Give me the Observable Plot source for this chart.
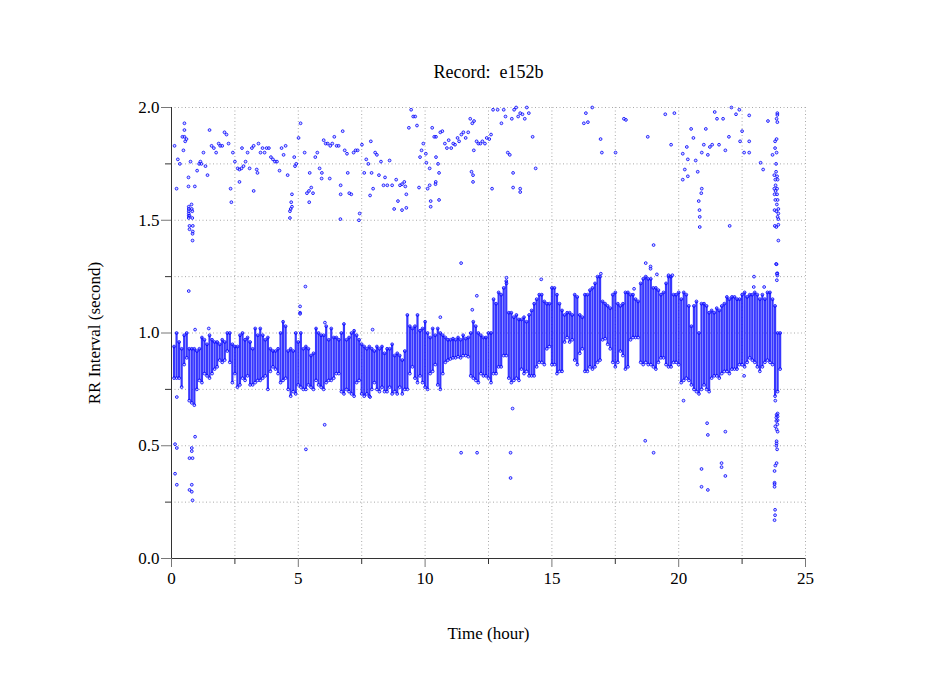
<!DOCTYPE html>
<html>
<head>
<meta charset="utf-8">
<script src="https://cdn.jsdelivr.net/npm/d3@7"></script>
<script src="https://cdn.jsdelivr.net/npm/@observablehq/plot@0.6"></script>
<style>
  body { margin: 0; background: white; }
</style>
</head>
<body>
<div id="chart"></div>
<script>
const xMajorTicks = [0, 5, 10, 15, 20, 25]
const xMinorTicks = [2.5, 7.5, 12.5, 17.5, 22.5]
const yMajorTicks = [0, 0.5, 1, 1.5, 2]
const yMinorTicks = [0.25, 0.75, 1.25, 1.75]

// the dense band cannot be read beat by beat, so it is kept as one
// low/high pair for each 0.1 hour column
const bandHour = [
  0.1, 0.2, 0.3, 0.4, 0.5, 0.6, 0.7, 0.8, 0.9, 1.0,
  1.1, 1.2, 1.3, 1.4, 1.5, 1.6, 1.7, 1.8, 1.9, 2.0,
  2.1, 2.2, 2.3, 2.4, 2.5, 2.6, 2.7, 2.8, 2.9, 3.0,
  3.1, 3.2, 3.3, 3.4, 3.5, 3.6, 3.7, 3.8, 3.9, 4.0,
  4.1, 4.2, 4.3, 4.4, 4.5, 4.6, 4.7, 4.8, 4.9, 5.0,
  5.1, 5.2, 5.3, 5.4, 5.5, 5.6, 5.7, 5.8, 5.9, 6.0,
  6.1, 6.2, 6.3, 6.4, 6.5, 6.6, 6.7, 6.8, 6.9, 7.0,
  7.1, 7.2, 7.3, 7.4, 7.5, 7.6, 7.7, 7.8, 7.9, 8.0,
  8.1, 8.2, 8.3, 8.4, 8.5, 8.6, 8.7, 8.8, 8.9, 9.0,
  9.1, 9.2, 9.3, 9.4, 9.5, 9.6, 9.7, 9.8, 9.9, 10.0,
  10.1, 10.2, 10.3, 10.4, 10.5, 10.6, 10.7, 10.8, 10.9, 11.0,
  11.1, 11.2, 11.3, 11.4, 11.5, 11.6, 11.7, 11.8, 11.9, 12.0,
  12.1, 12.2, 12.3, 12.4, 12.5, 12.6, 12.7, 12.8, 12.9, 13.0,
  13.1, 13.2, 13.3, 13.4, 13.5, 13.6, 13.7, 13.8, 13.9, 14.0,
  14.1, 14.2, 14.3, 14.4, 14.5, 14.6, 14.7, 14.8, 14.9, 15.0,
  15.1, 15.2, 15.3, 15.4, 15.5, 15.6, 15.7, 15.8, 15.9, 16.0,
  16.1, 16.2, 16.3, 16.4, 16.5, 16.6, 16.7, 16.8, 16.9, 17.0,
  17.1, 17.2, 17.3, 17.4, 17.5, 17.6, 17.7, 17.8, 17.9, 18.0,
  18.1, 18.2, 18.3, 18.4, 18.5, 18.6, 18.7, 18.8, 18.9, 19.0,
  19.1, 19.2, 19.3, 19.4, 19.5, 19.6, 19.7, 19.8, 19.9, 20.0,
  20.1, 20.2, 20.3, 20.4, 20.5, 20.6, 20.7, 20.8, 20.9, 21.0,
  21.1, 21.2, 21.3, 21.4, 21.5, 21.6, 21.7, 21.8, 21.9, 22.0,
  22.1, 22.2, 22.3, 22.4, 22.5, 22.6, 22.7, 22.8, 22.9, 23.0,
  23.1, 23.2, 23.3, 23.4, 23.5, 23.6, 23.7, 23.8, 23.9, 24.0
]
const bandHigh = [
  .94, 1.0, .96, .93, .99, 1.0, .93, .93, .93, .92,
  .93, .98, .97, .95, .99, .97, .96, .96, .95, .97,
  .96, 1.0, 1.0, .95, .94, .94, .99, 1.0, .97, .98,
  .96, .93, 1.02, .99, 1.02, .99, .97, .98, .93, .92,
  .92, .93, 1.0, 1.05, 1.03, .92, .93, .92, 1.0, .96,
  1.0, .93, .94, .93, .90, .91, 1.02, 1.0, .99, .99,
  1.03, .97, 1.02, .98, .98, .97, 1.0, 1.04, .97, .98,
  1.0, 1.01, .99, .97, .95, .94, .93, .94, .93, .92,
  .94, .93, .94, .91, .93, .93, .95, .90, .91, .90,
  .88, .92, 1.08, 1.03, 1.02, 1.03, 1.08, 1.01, 1.02, 1.05,
  1.0, .98, 1.02, .99, 1.02, 1.0, .99, .98, .97, .97,
  .975, .97, .98, .97, .99, .975, .98, 1.0, 1.05, 1.03,
  1.0, .99, .98, .98, 1.0, 1.0, 1.15, 1.13, 1.18, 1.17,
  1.2, 1.23, 1.09, 1.09, 1.07, 1.08, 1.06, 1.06, 1.07, 1.05,
  1.08, 1.1, 1.13, 1.15, 1.17, 1.17, 1.14, 1.13, 1.13, 1.2,
  1.2, 1.17, 1.13, 1.1, 1.08, 1.09, 1.09, 1.08, 1.17, 1.16,
  1.08, 1.07, 1.17, 1.17, 1.19, 1.2, 1.22, 1.25, 1.25, 1.14,
  1.13, 1.12, 1.11, 1.17, 1.18, 1.13, 1.12, 1.13, 1.18, 1.18,
  1.17, 1.17, 1.15, 1.14, 1.22, 1.24, 1.25, 1.24, 1.24, 1.2,
  1.2, 1.19, 1.17, 1.18, 1.22, 1.25, 1.25, 1.17, 1.17, 1.18,
  1.15, 1.18, 1.17, 1.12, 1.03, 1.12, 1.14, 1.0, 1.13, 1.13,
  1.12, 1.09, 1.1, 1.09, 1.11, 1.1, 1.12, 1.13, 1.16, 1.15,
  1.16, 1.16, 1.15, 1.15, 1.17, 1.18, 1.16, 1.17, 1.17, 1.18,
  1.17, 1.15, 1.17, 1.15, 1.18, 1.18, 1.15, 1.12, 1.0, 1.0
]
const bandLow = [
  .80, .80, .80, .76, .86, .89, .70, .69, .68, .75,
  .79, .78, .82, .81, .80, .82, .84, .85, .88, .87,
  .88, .92, .87, .78, .82, .76, .77, .80, .79, .81,
  .77, .77, .78, .79, .79, .80, .81, .75, .83, .85,
  .84, .82, .78, .79, .80, .75, .72, .74, .73, .77,
  .76, .75, .75, .77, .76, .75, .79, .77, .76, .75,
  .78, .79, .79, .80, .82, .82, .74, .73, .75, .74,
  .73, .72, .78, .79, .73, .72, .73, .72, .75, .78,
  .75, .74, .76, .74, .74, .76, .73, .74, .73, .76,
  .73, .75, .75, .82, .85, .80, .78, .81, .78, .76,
  .75, .82, .83, .86, .77, .75, .82, .87, .88, .885,
  .89, .89, .895, .89, .90, .90, .895, .81, .80, .79,
  .78, .82, .81, .81, .80, .78, .82, .82, .85, .85,
  .90, .90, .80, .78, .79, .80, .79, .84, .82, .83,
  .81, .81, .81, .85, .87, .87, .86, .93, .94, .86,
  .86, .82, .83, .83, .96, .98, .96, .97, .88, .86,
  .91, .93, .83, .83, .85, .84, .85, .87, .88, .97,
  .975, .95, .93, .87, .85, .87, .92, .90, .84, .85,
  .97, .98, .98, .98, .87, .86, .87, .86, .86, .85,
  .84, .87, .89, .89, .86, .85, .85, .87, .87, .86,
  .78, .79, .80, .79, .77, .75, .74, .73, .75, .77,
  .75, .74, .80, .81, .81, .80, .82, .83, .83, .82,
  .84, .84, .84, .86, .86, .85, .87, .89, .88, .87,
  .85, .83, .85, .87, .88, .87, .86, .72, .74, .84
]

// single beats away from the band
const beatHour = [
  .12, .25, .20, .33, .51, .51, .43, .51, .59, .54, .47, .67, .67, .92, .75, .79, .68, .80, .68, .68,
  .82, .68, .68, .82, .71, .68, .84, .71, .71, .84, .83, .83, 1.01, 1.09, 1.14, 1.18, 1.26, 1.34, 1.42, 1.50,
  1.58, 1.67, 1.76, 1.86, 1.92, 2.0, 2.09, 2.17, 2.25, 2.33, 2.36, 2.42, 2.5, 2.61, 2.68, 2.68, 2.76, 2.84, 2.78, 2.92,
  3.0, 3.08, 3.17, 3.24, 3.24, 3.36, 3.39, 3.43, 3.51, 3.59, 3.67, 3.75, 3.84, 3.92, 4.0, 4.08, 4.16, 4.26, 4.34, 4.42,
  4.5, 4.58, 4.67, 4.70, 4.67, 4.72, 4.75, 4.75, 4.84, 4.87, 4.92, 5.01, 5.09, 5.25, 5.45, 5.34, 5.42, 5.51, 5.58, 5.43,
  5.67, 5.75, 5.84, 5.93, 5.92, 6.0, 6.08, 6.16, 6.24, 6.26, 6.34, 6.42, 6.51, 6.59, 6.67, 6.67, 6.66, 6.75, 6.83, 6.92,
  6.95, 7.01, 7.09, 7.18, 7.26, 7.34, 7.42, 7.39, 7.51, 7.6, 7.68, 7.76, 7.86, 7.83, 7.89, 7.95, 8.03, 8.1, 8.18, 8.26,
  8.36, 8.42, 8.51, 8.6, 8.7, 8.78, 8.86, 8.93, 9.01, 9.09, 9.18, 9.22, 9.26, 9.09, 9.26, 9.36, 9.45, 9.53, 9.61, 9.68,
  9.76, 9.8, 9.86, 9.93, 10.03, 10.05, 10.18, 10.1, 10.18, 10.22, 10.22, 10.28, 10.36, 10.43, 10.43, 10.51, 10.55, 10.42, 10.41, 10.55,
  10.6, 10.68, 10.78, 10.86, 10.93, 11.03, 11.11, 11.18, 11.28, 11.34, 11.43, 11.51, 11.6, 11.7, 11.42, 11.78, 11.86, 11.93, 11.83, 11.89,
  11.89, 11.92, 12.03, 12.1, 12.18, 12.26, 12.36, 12.43, 12.53, 12.6, 12.64, 12.68, 12.86, 13.01, 13.1, 13.17, 13.26, 13.34, 13.42, 13.47,
  13.47, 13.51, 13.59, 13.67, 13.75, 13.84, 13.93, 14.01, 14.09, 13.75, 13.75, 14.24, 14.36, 16.34, 16.59, 16.26, 16.42, 16.92, 16.97, 17.51,
  17.84, 17.92, 18.78, 18.7, 19.47, 19.83, 19.7, 19.01, 18.89, 18.89, 20.49, 21.07, 21.42, 21.51, 21.75, 22.08, 22.26, 22.39, 22.78, 22.5,
  21.98, 20.58, 20.32, 20.99, 21.23, 21.32, 21.59, 22.42, 22.78, 20.91, 20.16, 21.84, 21.15, 20.36, 20.67, 22.58, 22.78, 20.24, 20.75, 20.36,
  20.16, 20.91, 20.89, 20.79, 20.82, 20.83, 20.83, 22.01, 23.52, 23.23, 23.33, 23.7, 23.8, 23.86, 23.8, 23.86, 23.89, 23.89, 23.86, 23.89,
  23.84, 23.84, 23.77, 23.88, 23.81, 23.9, 23.82, 23.77, 23.88, 23.82, 23.78, 23.88, 23.81, 23.9, 23.87, 23.93, 23.78, 23.85, 23.93, 23.9,
  23.93, 23.93, 23.79, 23.85, 23.93, 23.86, 23.89, 23.89,
  20.19, 23.81, 23.9, 23.86, 23.9, 23.85, 23.9, 23.85, 23.89, 23.81, 23.86, 23.9, 23.86, 23.86, 23.85, 23.88, 21.12, 21.84, 21.15, 18.68,
  19.01, 21.69, 21.69, 20.9, 21.84, 20.9, 21.15, 23.86, 23.81, 23.78, 23.78, 23.78, 23.78, 23.8, 23.8, 23.78,
  .14, .21, .93, .8, .8, .71, .83, .14, .21, .8, .71, .8, .83, 5.3, 6.04,
  11.42, 12.05, 13.37, 13.37, 13.45,
  .21, .68, 5.07, 5.07, 5.07, 12.04, 11.86, 10.6, 7.83, 6.05, .93, 1.47, 7.93, 5.28,
  22.58, 19.14, 19.6, 19.75, 16.93, 23.84, 23.87, 23.87, 22.97, 22.96, 23.37, 18.24, 14.58, 13.21, 13.21
]
const beatInterval = [
  1.83, 1.77, 1.64, 1.75, 1.93, 1.90, 1.87, 1.87, 1.86, 1.85, 1.81, 1.69, 1.65, 1.65, 1.76, 1.57, 1.56, 1.55, 1.55, 1.54,
  1.54, 1.53, 1.52, 1.51, 1.52, 1.51, 1.475, 1.475, 1.46, 1.45, 1.44, 1.41, 1.72, 1.75, 1.76, 1.75, 1.80, 1.74, 1.70, 1.90,
  1.83, 1.82, 1.80, 1.84, 1.83, 1.83, 1.89, 1.88, 1.84, 1.64, 1.58, 1.80, 1.76, 1.73, 1.725, 1.67, 1.73, 1.74, 1.82, 1.76,
  1.80, 1.73, 1.82, 1.83, 1.63, 1.725, 1.71, 1.84, 1.80, 1.82, 1.80, 1.82, 1.82, 1.78, 1.77, 1.76, 1.76, 1.72, 1.82, 1.79,
  1.83, 1.70, 1.51, 1.55, 1.54, 1.58, 1.615, 1.56, 1.78, 1.74, 1.75, 1.865, 1.93, 1.80, 1.71, 1.62, 1.63, 1.645, 1.62, 1.58,
  1.78, 1.80, 1.73, 1.71, 1.685, 1.855, 1.84, 1.84, 1.685, 1.83, 1.84, 1.87, 1.83, 1.83, 1.655, 1.615, 1.505, 1.895, 1.81, 1.795,
  1.71, 1.62, 1.615, 1.80, 1.81, 1.81, 1.53, 1.50, 1.835, 1.71, 1.77, 1.75, 1.85, 1.61, 1.71, 1.64, 1.80, 1.79, 1.70, 1.76,
  1.655, 1.69, 1.655, 1.765, 1.655, 1.55, 1.68, 1.585, 1.655, 1.66, 1.67, 1.65, 1.615, 1.545, 1.555, 1.91, 1.99, 1.96, 1.96, 1.92,
  1.645, 1.78, 1.81, 1.84, 1.795, 1.755, 1.73, 1.64, 1.655, 1.585, 1.56, 1.91, 1.87, 1.87, 1.78, 1.75, 1.71, 1.67, 1.66, 1.59,
  1.89, 1.895, 1.84, 1.82, 1.855, 1.82, 1.84, 1.835, 1.865, 1.85, 1.88, 1.89, 1.865, 1.89, 1.31, 1.95, 1.93, 1.94, 1.715, 1.70,
  1.67, 1.81, 1.85, 1.84, 1.84, 1.85, 1.84, 1.865, 1.86, 1.88, 1.64, 1.99, 1.99, 1.93, 1.99, 1.96, 1.80, 1.79, 1.95, 1.71,
  1.645, 1.99, 2.0, 1.96, 1.975, 1.97, 1.95, 2.0, 1.975, 1.64, 1.625, 1.87, 1.73, 1.975, 2.0, 1.93, 1.935, 1.86, 1.80, 1.80,
  1.95, 1.945, 1.87, 1.31, 1.97, 1.975, 1.835, 1.39, 1.295, 1.285, 1.905, 1.905, 1.98, 1.95, 1.95, 2.0, 1.97, 1.99, 1.965, 1.895,
  1.87, 1.865, 1.825, 1.835, 1.825, 1.835, 1.835, 1.85, 1.85, 1.80, 1.795, 1.81, 1.79, 1.77, 1.765, 1.80, 1.80, 1.725, 1.715, 1.695,
  1.68, 1.64, 1.62, 1.585, 1.545, 1.515, 1.47, 1.475, 1.94, 1.755, 1.725, 1.79, 1.82, 1.80, 1.85, 1.86, 1.975, 1.967, 1.95, 1.935,
  1.75, 1.715, 1.70, 1.695, 1.68, 1.68, 1.655, 1.64, 1.64, 1.63, 1.615, 1.615, 1.59, 1.59, 1.57, 1.55, 1.545, 1.54, 1.53, 1.515,
  1.505, 1.48, 1.475, 1.47, 1.41, 1.305, 1.265, 1.255,
  .70, .70, .643, .637, .63, .625, .613, .61, .595, .586, .573, .5625, .52, .51, .50, .484, .60, .5625, .548, .522,
  .469, .423, .405, .397, .366, .318, .304, .423, .412, .388, .336, .33, .318, .216, .192, .17,
  .507, .49, .54, .49, .476, .445, .445, .376, .327, .327, .304, .296, .258, .484, .593,
  .469, .469, .469, .357, .665,
  .716, 1.186, 1.118, 1.09, 1.085, 1.165, 1.103, 1.07, .716, 1.046, 1.015, 1.02, 1.015, 1.206,
  .81, 1.26, 1.256, 1.256, 1.263, 1.306, 1.263, 1.234, 1.25, 1.204, 1.204, 1.196, 1.238, 1.245, 1.22
]

const bandRows = bandHour.map((h, i) => ({hour: h, low: bandLow[i], high: bandHigh[i]}))
const beatRows = beatHour.map((h, i) => ({hour: h, rr: beatInterval[i]}))

const serif = "'Liberation Serif', 'Times New Roman', serif"
const dotStyle = {r: 1.4, stroke: '#0000ff', strokeWidth: 0.8, fill: '#8080ff', fillOpacity: 0.35}

let chart = Plot.plot({
  width: 949,
  height: 697,
  marginLeft: 171,
  marginRight: 144,
  marginTop: 107,
  marginBottom: 139,
  x: {domain: [0, 25]},
  y: {domain: [0, 2]},
  style: {background: 'white', fontFamily: serif, color: 'black'},
  marks: [
    Plot.gridX([...xMajorTicks, ...xMinorTicks], {stroke: '#aaa', strokeOpacity: 1, strokeDasharray: '1,2.5'}),
    Plot.gridY([...yMajorTicks, ...yMinorTicks], {stroke: '#aaa', strokeOpacity: 1, strokeDasharray: '1,2.5'}),

    Plot.ruleX(bandRows, {x: 'hour', y1: 'low', y2: 'high', stroke: '#1414ff', strokeWidth: 2.2, strokeOpacity: 0.85}),
    Plot.dot(bandRows, {x: 'hour', y: 'high', ...dotStyle}),
    Plot.dot(bandRows, {x: 'hour', y: 'low', ...dotStyle}),
    Plot.dot(beatRows, {x: 'hour', y: 'rr', ...dotStyle}),

    Plot.ruleX([0], {stroke: '#333'}),
    Plot.ruleY([0], {stroke: '#333'}),
    Plot.axisX({ticks: xMinorTicks, tickSize: 6, stroke: '#333', tickFormat: () => '', label: null}),
    Plot.axisY({ticks: yMinorTicks, tickSize: 6, stroke: '#333', tickFormat: () => '', label: null}),
    Plot.axisX({
      ticks: xMajorTicks, tickSize: 9, stroke: '#777', tickPadding: 4, fontSize: 17,
      tickFormat: d => d, label: 'Time (hour)', labelAnchor: 'center', labelArrow: 'none', labelOffset: 80
    }),
    Plot.axisY({
      ticks: yMajorTicks, tickSize: 10, stroke: '#777', tickPadding: 2, fontSize: 17,
      tickFormat: d3.format('.1f'), label: 'RR Interval (second)', labelAnchor: 'center', labelArrow: 'none', labelOffset: 84
    }),
    Plot.text(['Record:  e152b'], {
      frameAnchor: 'top', dy: -42, fontSize: 18, fill: 'black', fontFamily: serif
    })
  ]
})
d3.select('#chart').append(() => chart)
</script>
</body>
</html>
